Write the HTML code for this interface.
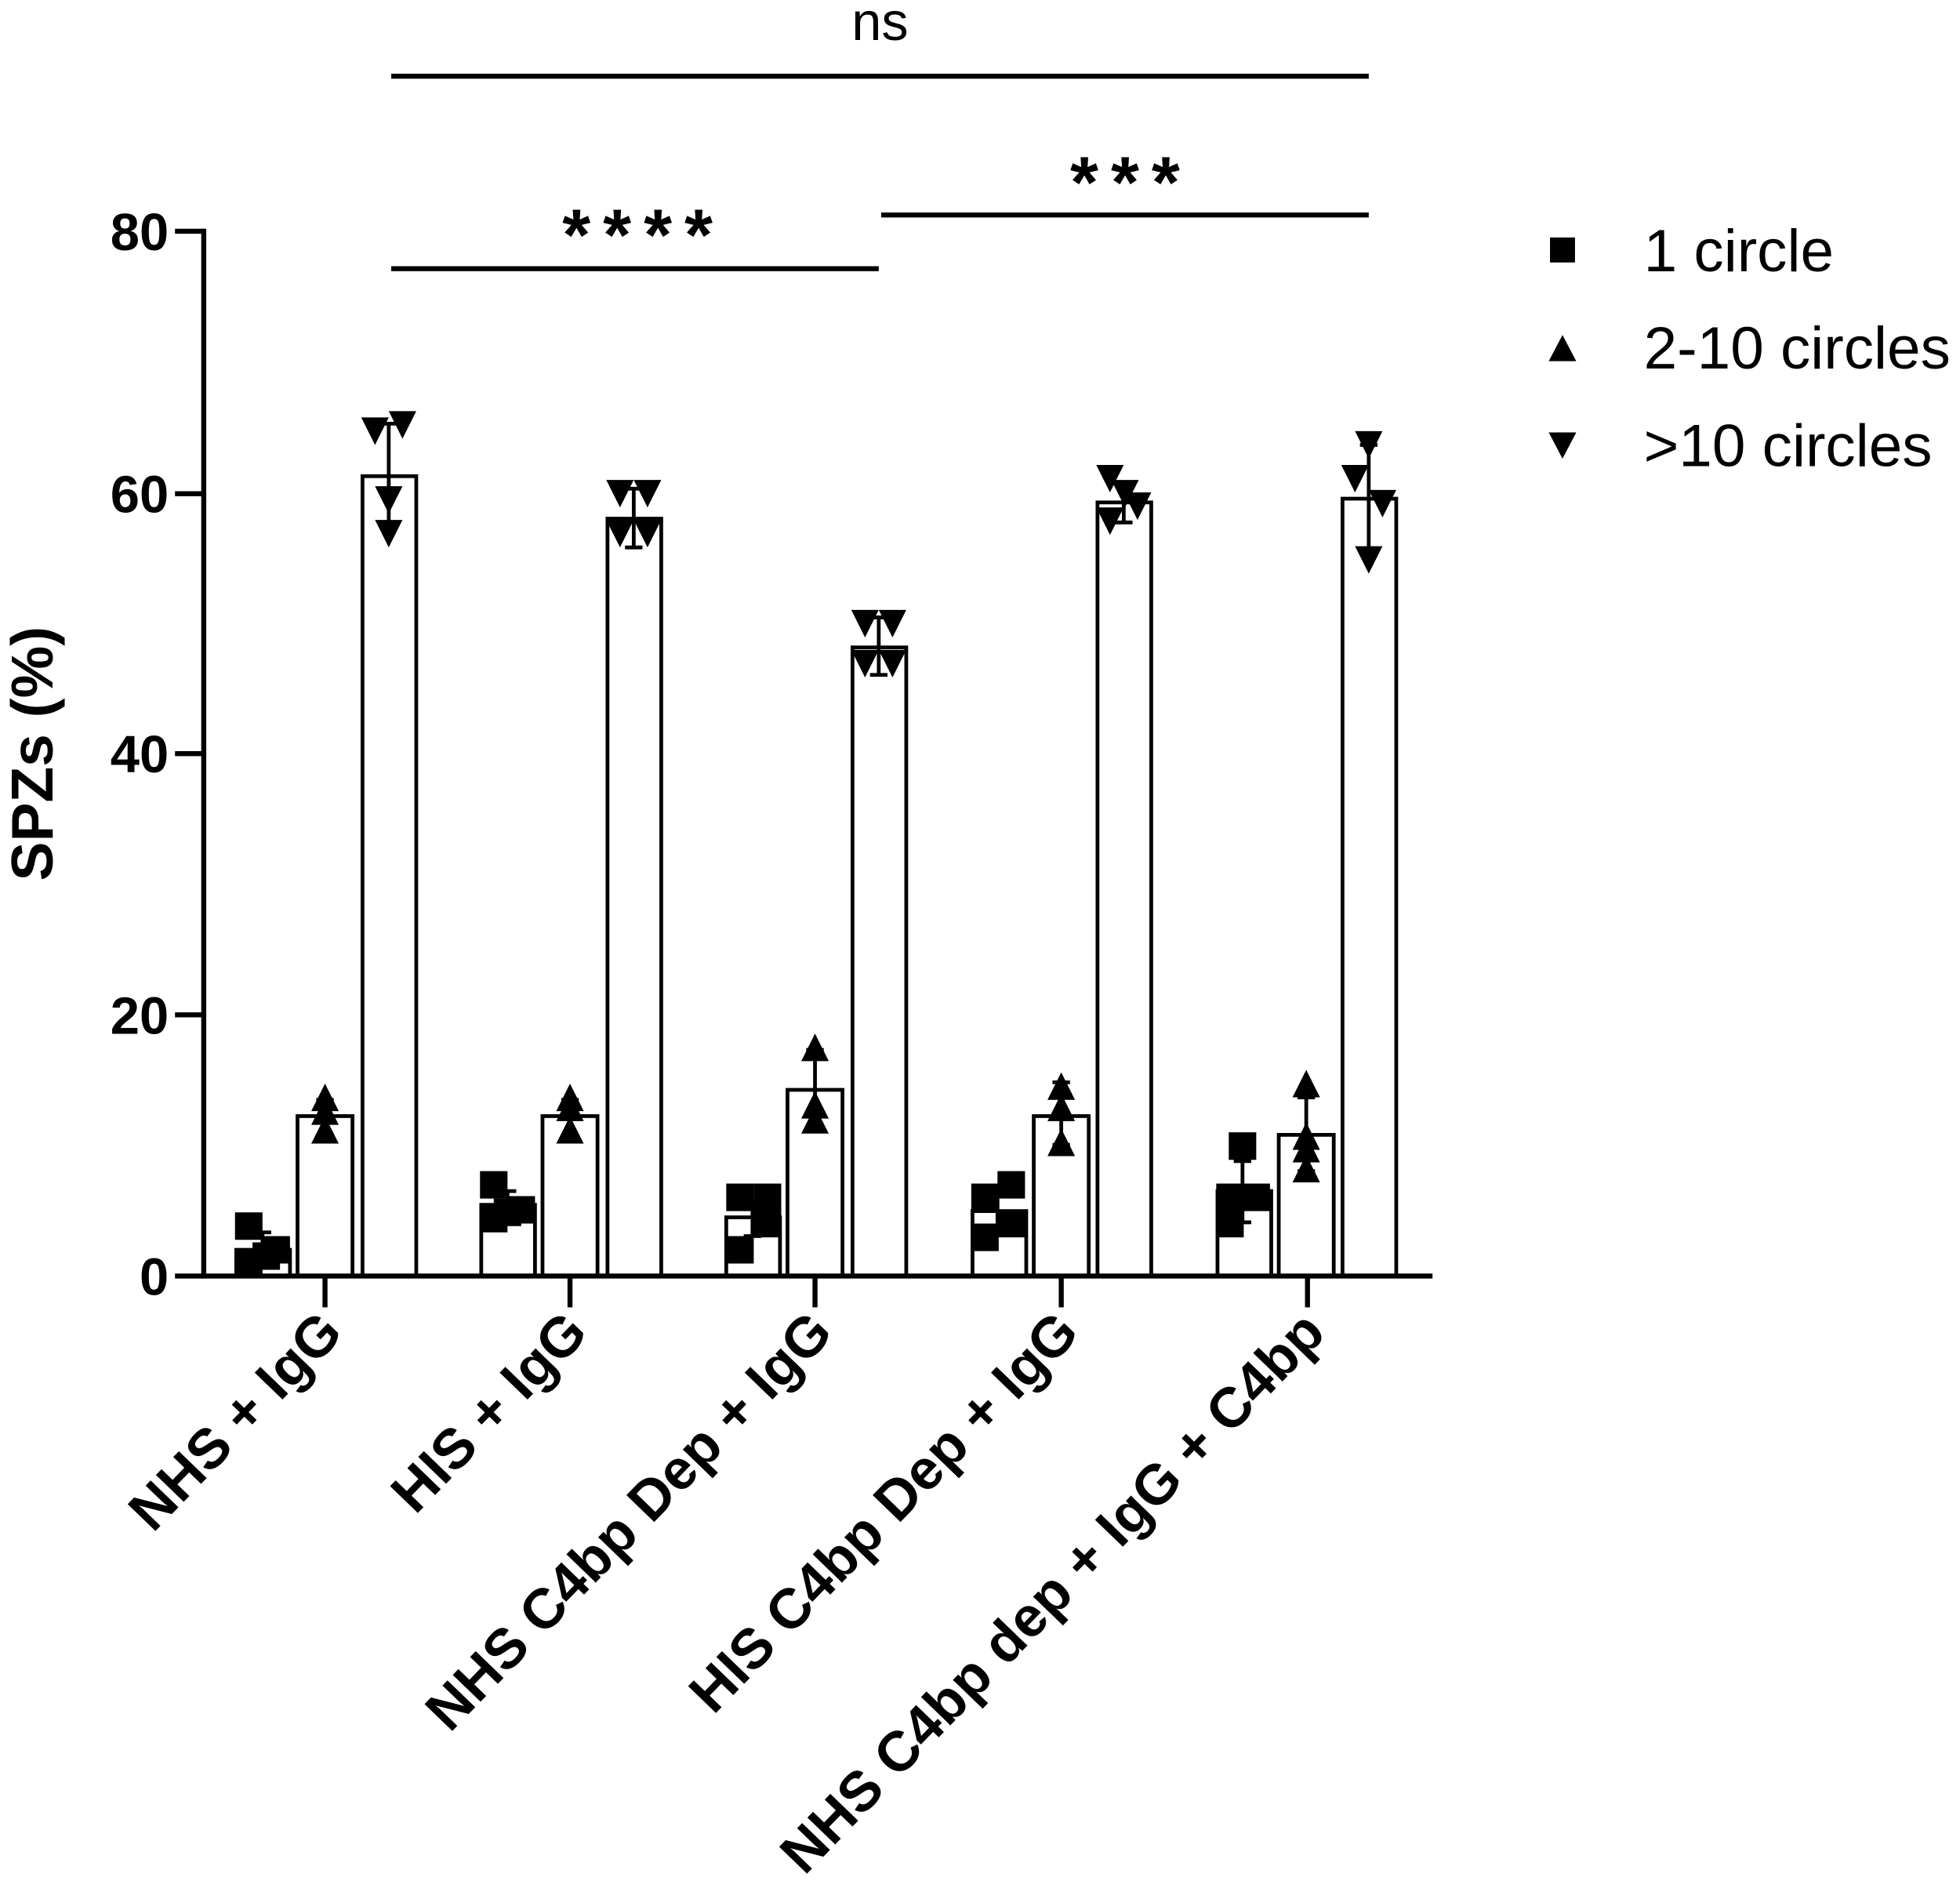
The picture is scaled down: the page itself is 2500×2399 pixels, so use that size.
<!DOCTYPE html>
<html><head><meta charset="utf-8"><style>html,body{margin:0;padding:0;background:#fff}svg{display:block}</style></head>
<body>
<svg width="2500" height="2399" viewBox="0 0 1568 1505" preserveAspectRatio="none" xmlns="http://www.w3.org/2000/svg" font-family="Liberation Sans, Arial, sans-serif">
<defs>
<path id="sq" d="M-11,-11h22v22h-22z"/>
<path id="tu" d="M0,-13L11,9H-11z"/>
<path id="td" d="M0,13L11,-9H-11z"/>
</defs>
<rect width="1568" height="1505" fill="#fff"/>
<g stroke="#000" fill="none" stroke-width="3">
<rect x="189" y="1000" width="43" height="21"/>
<rect x="238" y="893" width="44" height="128"/>
<rect x="290" y="381" width="43" height="640"/>
<rect x="385" y="964" width="43" height="57"/>
<rect x="434" y="893" width="44" height="128"/>
<rect x="486" y="415" width="43" height="606"/>
<rect x="581" y="974" width="43" height="47"/>
<rect x="630" y="872" width="44" height="149"/>
<rect x="682" y="518" width="43" height="503"/>
<rect x="778" y="969" width="43" height="52"/>
<rect x="827" y="893" width="44" height="128"/>
<rect x="878" y="402" width="43" height="619"/>
<rect x="974" y="953" width="43" height="68"/>
<rect x="1023" y="908" width="44" height="113"/>
<rect x="1074" y="399" width="43" height="622"/>
<path d="M210,1000V986M203,986h14 M260,893V880M253,880h14 M311,381V339M304,339h14M311,381V422M304,422h14
M406,964V953M399,953h14 M456,893V880M449,880h14 M507,415V391M500,391h14M507,415V438M500,438h14
M602,974V962M595,962h14M602,974V989M595,989h14 M652,872V840M645,840h14M652,872V902M645,902h14 M703,518V494M696,494h14M703,518V540M696,540h14
M798,969V957M791,957h14M798,969V985M791,985h14 M849,893V866M842,866h14M849,893V916M842,916h14 M899,402V387M892,387h14M899,402V418M892,418h14
M994,953V929M987,929h14M994,953V978M987,978h14 M1045,908V878M1038,878h14M1045,908V937M1038,937h14 M1095,399V356M1088,356h14M1095,399V440M1088,440h14"/>
</g>
<g fill="#000">
<use href="#sq" x="199" y="981"/><use href="#sq" x="199" y="1010"/><use href="#sq" x="221" y="1000"/><use href="#sq" x="213" y="1005"/>
<use href="#tu" x="260" y="880"/><use href="#tu" x="260" y="891"/><use href="#tu" x="260" y="906"/>
<use href="#td" x="300" y="343"/><use href="#td" x="322" y="338"/><use href="#td" x="311" y="398"/><use href="#td" x="311" y="425"/>
<use href="#sq" x="395" y="948"/><use href="#sq" x="395" y="975"/><use href="#sq" x="417" y="968"/><use href="#sq" x="406" y="970"/>
<use href="#tu" x="456" y="880"/><use href="#tu" x="456" y="888"/><use href="#tu" x="456" y="906"/>
<use href="#td" x="496" y="393"/><use href="#td" x="518" y="393"/><use href="#td" x="496" y="425"/><use href="#td" x="518" y="425"/>
<use href="#sq" x="592" y="958"/><use href="#sq" x="614" y="958"/><use href="#sq" x="614" y="979"/><use href="#sq" x="592" y="1000"/>
<use href="#tu" x="652" y="840"/><use href="#tu" x="652" y="886"/><use href="#tu" x="652" y="898"/>
<use href="#td" x="692" y="497"/><use href="#td" x="714" y="497"/><use href="#td" x="692" y="529"/><use href="#td" x="714" y="529"/>
<use href="#sq" x="809" y="948"/><use href="#sq" x="788" y="958"/><use href="#sq" x="809" y="979"/><use href="#sq" x="788" y="990"/>
<use href="#tu" x="849" y="871"/><use href="#tu" x="849" y="888"/><use href="#tu" x="849" y="916"/>
<use href="#td" x="888" y="381"/><use href="#td" x="900" y="393"/><use href="#td" x="910" y="403"/><use href="#td" x="888" y="415"/>
<use href="#sq" x="994" y="917"/><use href="#sq" x="1005" y="958"/><use href="#sq" x="984" y="958"/><use href="#sq" x="984" y="979"/>
<use href="#tu" x="1045" y="869"/><use href="#tu" x="1045" y="911"/><use href="#tu" x="1045" y="921"/><use href="#tu" x="1045" y="937"/>
<use href="#td" x="1095" y="354"/><use href="#td" x="1084" y="381"/><use href="#td" x="1106" y="401"/><use href="#td" x="1095" y="446"/>
</g>
<g stroke="#000" stroke-width="4" fill="none">
<path d="M163,183V1023M161,1021H1146"/>
<path d="M140,185H163M140,395H163M140,603H163M140,812H163M140,1021H163"/>
<path d="M260,1021V1046M456,1021V1046M652,1021V1046M849,1021V1046M1046,1021V1046"/>
<path d="M313,61H1095M313,215H703M705,172H1095"/>
</g>
<g font-weight="bold" font-size="42" text-anchor="end" fill="#000">
<text x="135" y="200">80</text><text x="135" y="410">60</text><text x="135" y="618">40</text><text x="135" y="827">20</text><text x="135" y="1036">0</text>
</g>
<text transform="translate(42,603) rotate(-90)" font-weight="bold" font-size="47" text-anchor="middle">SPZs (%)</text>
<text x="704" y="32" font-size="43" text-anchor="middle">ns</text>
<g font-weight="bold" font-size="58" text-anchor="middle" letter-spacing="10">
<text x="515" y="208">****</text>
<text x="905" y="166">***</text>
</g>
<g font-weight="bold" font-size="45" text-anchor="end">
<text transform="translate(276,1068) rotate(-46)">NHS + IgG</text>
<text transform="translate(472,1068) rotate(-46)">HIS + IgG</text>
<text transform="translate(668,1068) rotate(-46)">NHS C4bp Dep + IgG</text>
<text transform="translate(865,1068) rotate(-46)">HIS C4bp Dep + IgG</text>
<text transform="translate(1062,1068) rotate(-46)">NHS C4bp dep + IgG + C4bp</text>
</g>
<g fill="#000">
<rect x="1240" y="190" width="20" height="20"/>
<path d="M1250,268L1261,289H1239z"/>
<path d="M1250,367L1261,346H1239z"/>
</g>
<g font-size="48">
<text x="1315" y="217">1 circle</text>
<text x="1315" y="295">2-10 circles</text>
<text x="1315" y="373">&gt;10 circles</text>
</g>
</svg>
</body></html>
